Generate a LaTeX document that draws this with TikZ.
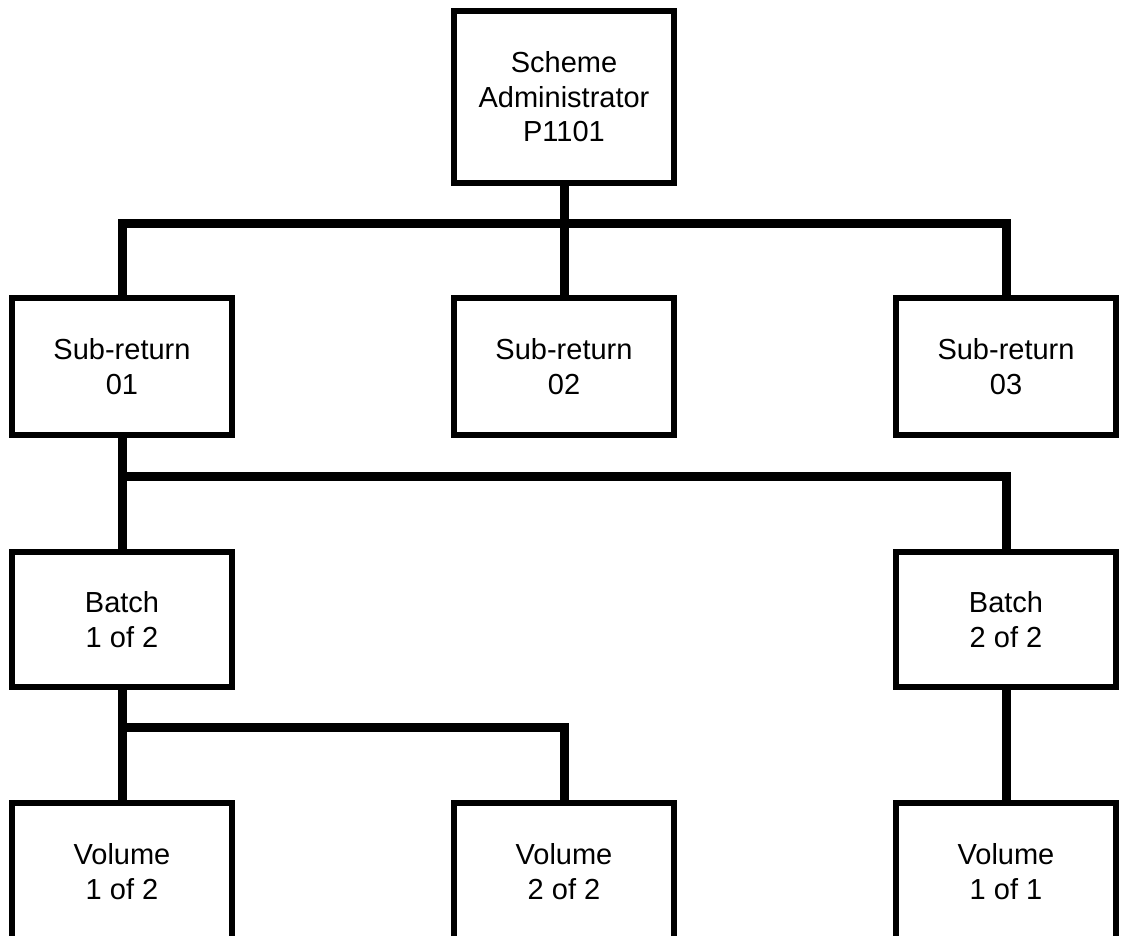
\documentclass[tikz,border=0pt]{standalone}
\usepackage{fontspec}
\setmainfont{Liberation Sans}
\begin{document}
\begin{tikzpicture}[x=1pt,y=-1pt,
  box/.style={draw=black, line width=6pt, fill=white, minimum width=220pt, minimum height=137pt,
    inner sep=0pt, align=center, font=\fontsize{29}{34.5}\selectfont},
  conn/.style={draw=black, line width=9pt, line join=miter}]
\useasboundingbox (0,0) rectangle (1124,935);
\fill[white] (0,0) rectangle (1124,935);
\clip (0,0) rectangle (1124,935);
% nodes
\node[box, minimum height=172pt] (sa) at (564,97) {Scheme\\Administrator\\P1101};
\node[box] (sr1) at (122,366.5) {Sub-return\\01};
\node[box] (sr2) at (564,366.5) {Sub-return\\02};
\node[box] (sr3) at (1006,366.5) {Sub-return\\03};
\node[box, minimum height=135pt] (b1) at (122,619.5) {Batch\\1 of 2};
\node[box, minimum height=135pt] (b2) at (1006,619.5) {Batch\\2 of 2};
\node[box] (v1) at (122,871.5) {Volume\\1 of 2};
\node[box] (v2) at (564,871.5) {Volume\\2 of 2};
\node[box] (v3) at (1006,871.5) {Volume\\1 of 1};
% bus coordinates
\coordinate (bus1) at (564,223);
\coordinate (bus2) at (122,476);
\coordinate (bus3) at (122,727);
% connectors
\draw[conn] (sa.south) -- (sr2.north);
\draw[conn] (sr1.north) -- (sr1.north |- bus1) -- (sr3.north |- bus1) -- (sr3.north);
\draw[conn] (sr1.south) -- (b1.north);
\draw[conn] (b1.north |- bus2) -- (b2.north |- bus2) -- (b2.north);
\draw[conn] (b1.south) -- (v1.north);
\draw[conn] (v1.north |- bus3) -- (v2.north |- bus3) -- (v2.north);
\draw[conn] (b2.south) -- (v3.north);
\end{tikzpicture}
\end{document}
